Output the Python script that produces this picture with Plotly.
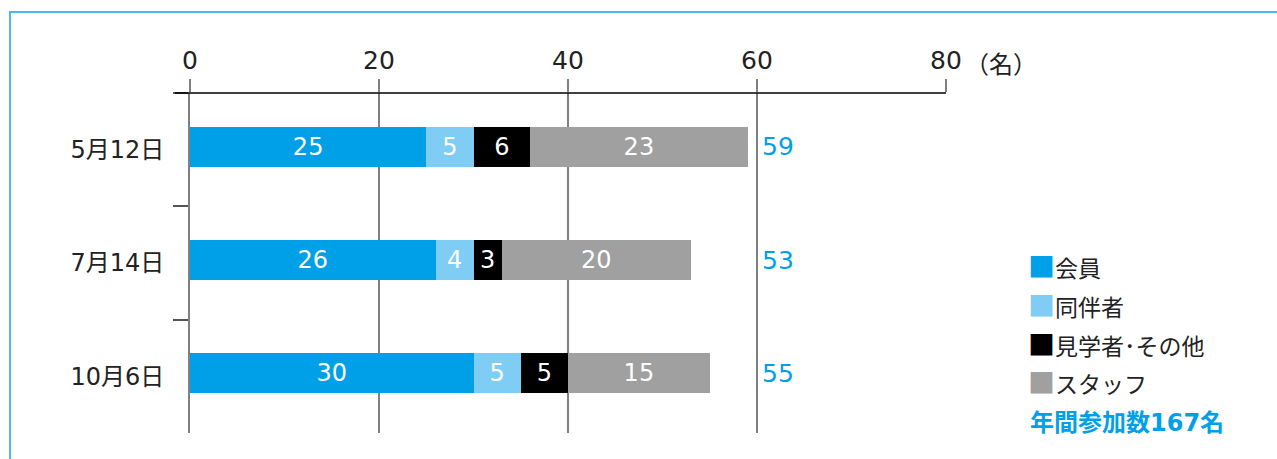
import plotly.graph_objects as go

# ---- data ----
dates = ["5月12日", "7月14日", "10月6日"]
series_names = ["会員", "同伴者", "見学者･その他", "スタッフ"]
members = [25, 26, 30]
companions = [5, 4, 5]
visitors = [6, 3, 5]
staff = [23, 20, 15]
x_ticks = [0, 20, 40, 60, 80]
x_unit = "（名）"
total_label = "年間参加数{}名"

colors = ["#00A0E9", "#7FCCF5", "#000000", "#A0A0A0"]
values = [members, companions, visitors, staff]
totals = [sum(v) for v in zip(*values)]

FONT = "DejaVu Sans, Noto Sans CJK JP"
CJK = "Noto Sans CJK JP"
W, H = 1277, 459
L, R, T, B = 190, 946, 93, 433


def px(xp):
    return (xp - L) / (R - L)


def py(yp):
    return (B - yp) / (B - T)


fig = go.Figure()
for name, vals, col in zip(series_names, values, colors):
    fig.add_trace(go.Bar(
        y=dates, x=vals, name=name, orientation="h",
        marker=dict(color=col, line=dict(width=0)),
        text=[str(v) for v in vals], textposition="inside",
        insidetextanchor="middle", constraintext="none",
        textfont=dict(color="white", size=24, family=FONT),
        width=0.355, offset=-0.204, showlegend=False, hoverinfo="skip",
    ))

annotations = []
for d, t in zip(dates, totals):
    annotations.append(dict(
        x=60, y=d, xref="x", yref="y", text=str(t), showarrow=False,
        xanchor="left", xshift=3, yshift=3,
        font=dict(color="#00A0E9", size=25, family=FONT),
    ))

annotations.append(dict(
    x=80, y=py(62), xref="x", yref="paper", text=x_unit, showarrow=False,
    xanchor="left", yanchor="middle", xshift=17,
    font=dict(color="#222222", size=24, family=CJK),
))

leg_y = [265, 304, 343, 381]
for name, col, yy in zip(series_names, colors, leg_y):
    annotations.append(dict(
        x=px(1026), y=py(yy), xref="paper", yref="paper",
        text=f"<span style='color:{col};font-size:27px'>■</span>{name}", showarrow=False,
        xanchor="left", yanchor="middle",
        font=dict(color="#222222", size=23, family=CJK),
    ))
annotations.append(dict(
    x=px(1028), y=py(423), xref="paper", yref="paper",
    text=f"<b>{total_label.format(sum(totals))}</b>", showarrow=False,
    xanchor="left", yanchor="middle",
    font=dict(color="#00A0E9", size=24, family=FONT),
))

shapes = []
# frame
shapes.append(dict(type="rect", xref="paper", yref="paper",
                   x0=px(10), x1=px(1290), y0=py(480), y1=py(12),
                   line=dict(color="#4DB8EC", width=2), fillcolor="rgba(0,0,0,0)", layer="below"))
# top axis line extending left
shapes.append(dict(type="line", xref="paper", yref="paper",
                   x0=px(175), x1=1, y0=1, y1=1,
                   line=dict(color="#000000", width=1.5), layer="above"))

fig.update_layout(
    width=W, height=H, barmode="stack",
    margin=dict(l=L, r=W - R, t=T, b=H - B, pad=0),
    paper_bgcolor="white", plot_bgcolor="white",
    font=dict(family=FONT, color="#222222"),
    annotations=annotations, shapes=shapes,
    xaxis=dict(
        range=[0, 80], side="top", tickvals=x_ticks,
        ticktext=[str(v) for v in x_ticks],
        showgrid=True, gridcolor="#808080", gridwidth=1.5,
        ticks="outside", ticklen=13, tickcolor="#808080", tickwidth=1.5,
        showline=False, zeroline=False,
        tickfont=dict(size=25, family=FONT, color="#222222"),
        fixedrange=True,
    ),
    yaxis=dict(
        autorange="reversed", type="category",
        showline=True, linecolor="#808080", linewidth=2,
        ticks="outside", ticklen=15, tickcolor="#555555", tickwidth=1.5,
        tickson="boundaries", showgrid=False, zeroline=False,
        tickfont=dict(size=24, family=FONT, color="#222222"),
        ticklabelstandoff=19,
        fixedrange=True,
    ),
)

fig.write_html("out.html")
